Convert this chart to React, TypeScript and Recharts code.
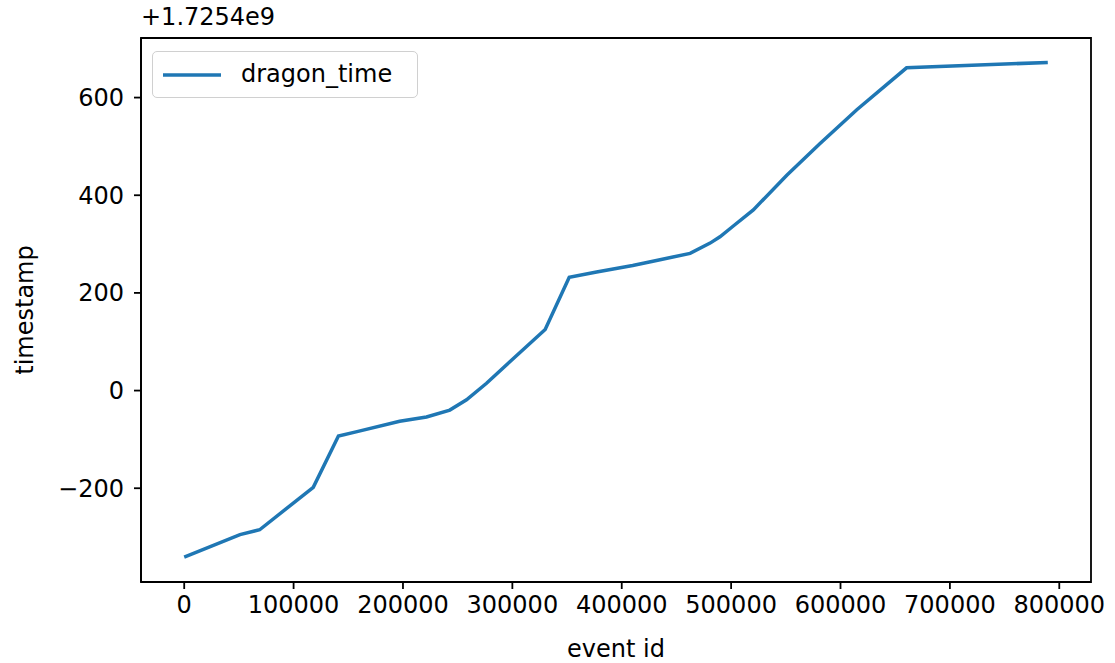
import React from "react"
import { LineChart, Line, XAxis, YAxis, ReferenceArea } from "recharts"

// event id (x) and timestamp offset from 1.7254e9 (y)
const eventIds = [
  0, 51000, 69000, 118000, 141000, 158000, 197000, 221500, 242800, 258100, 276400, 297700,
  330000, 352000, 377000, 410000, 435000, 462500, 480800, 489800, 502000, 520300, 550900,
  581300, 614900, 660400, 789500,
]
const dragonTime = [
  -341, -295, -285, -198, -93, -84, -63, -54, -40, -19, 15, 59,
  125, 232, 243, 256, 268, 281, 302, 315, 337, 370, 441,
  506, 575, 661, 672,
]
const xTicks = [0, 100000, 200000, 300000, 400000, 500000, 600000, 700000, 800000]
const yTicks = [-200, 0, 200, 400, 600]

const data = eventIds.map((id, i) => ({ id, dragon_time: dragonTime[i] }))

const FONT = "'DejaVu Sans', sans-serif"
const BLUE = "#1f77b4"
const xDomain = [-39500, 829000]
const yDomain = [-392, 722]

const fmt = (v: number) => (v < 0 ? "\u2212" + Math.abs(v) : String(v))

export default function App() {
  return (
    <div style={{ position: "absolute", left: 0, top: 0, width: 1115, height: 663, background: "#fff" }}>
      <LineChart
        width={1115}
        height={663}
        data={data}
        margin={{ top: 38, right: 24, bottom: 0, left: 0 }}
        style={{ fontFamily: FONT }}
      >
        <XAxis
          dataKey="id"
          type="number"
          domain={xDomain}
          ticks={xTicks}
          allowDataOverflow
          height={81}
          tickSize={7}
          tickMargin={7}
          stroke="#000"
          strokeWidth={1.8}
          tick={{ fill: "#000", fontSize: 24, fontFamily: FONT }}
          label={{
            value: "event id",
            position: "insideBottom",
            offset: 6,
            fill: "#000",
            fontSize: 24,
            fontFamily: FONT,
          }}
        />
        <YAxis
          type="number"
          domain={yDomain}
          ticks={yTicks}
          allowDataOverflow
          width={141}
          tickSize={7}
          tickMargin={10}
          tickFormatter={fmt}
          stroke="#000"
          strokeWidth={1.8}
          tick={{ fill: "#000", fontSize: 24, fontFamily: FONT }}
          label={{
            content: () => (
              <text
                x={33}
                y={310}
                transform="rotate(-90 33 310)"
                textAnchor="middle"
                fill="#000"
                fontSize={24}
                fontFamily={FONT}
              >
                timestamp
              </text>
            ),
          }}
        />
        <ReferenceArea
          x1={xDomain[0]}
          x2={xDomain[1]}
          y1={yDomain[0]}
          y2={yDomain[1]}
          fill="none"
          stroke="#000"
          strokeWidth={1.8}
          ifOverflow="visible"
        />
        <Line
          type="linear"
          dataKey="dragon_time"
          stroke={BLUE}
          strokeWidth={3.5}
          dot={false}
          isAnimationActive={false}
        />
      </LineChart>

      {/* offset text drawn by matplotlib above the y axis */}
      <div style={{ position: "absolute", left: 141, top: 3, fontFamily: FONT, fontSize: 24, color: "#000" }}>
        +1.7254e9
      </div>

      {/* legend */}
      <div
        style={{
          position: "absolute",
          left: 152,
          top: 51,
          width: 266,
          height: 47,
          boxSizing: "border-box",
          border: "1.5px solid #d0d0d0",
          borderRadius: 5,
          background: "rgba(255,255,255,0.8)",
          display: "flex",
          alignItems: "center",
          paddingLeft: 10,
          fontFamily: FONT,
          fontSize: 24,
          color: "#000",
        }}
      >
        <svg width={58} height={10} style={{ marginRight: 20 }}>
          <line x1={0} y1={5} x2={58} y2={5} stroke={BLUE} strokeWidth={3.5} />
        </svg>
        <span style={{ marginTop: -2 }}>dragon_time</span>
      </div>
    </div>
  )
}
